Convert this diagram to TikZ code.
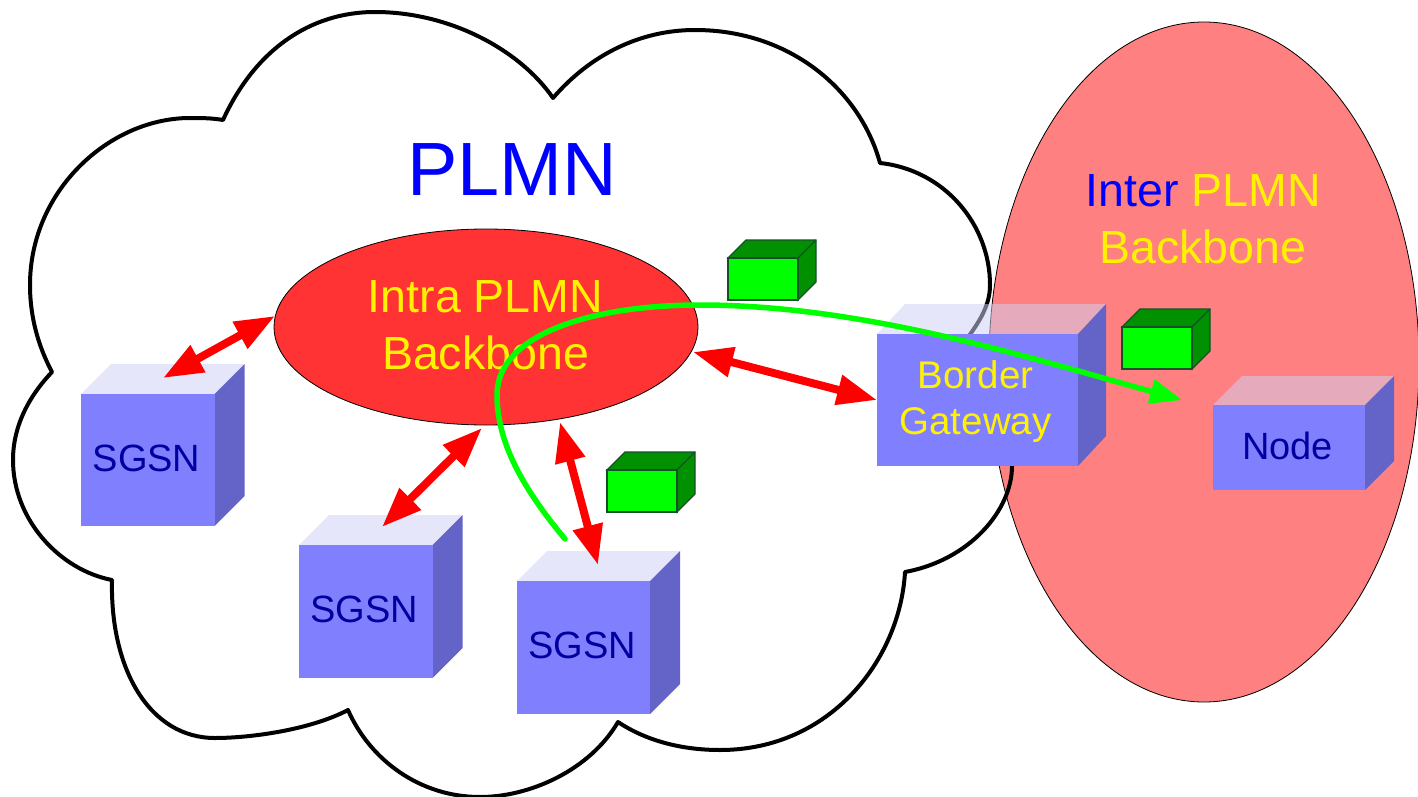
\documentclass[tikz,border=0pt]{standalone}
\usepackage{fontspec}
\setmainfont{Liberation Sans}
\usetikzlibrary{arrows.meta,shapes.geometric}
\definecolor{pinkfill}{RGB}{255,128,128}
\definecolor{redfill}{RGB}{255,51,51}
\definecolor{cubefront}{RGB}{128,128,255}
\definecolor{cubeside}{RGB}{100,100,200}
\definecolor{cubetop}{RGB}{208,208,245}
\definecolor{darktext}{RGB}{0,0,160}
\definecolor{pktdark}{RGB}{0,144,0}
\definecolor{pktline}{RGB}{20,80,40}
\definecolor{lime}{RGB}{0,255,0}
\newcommand{\fsz}[1]{\fontsize{#1}{#1}\selectfont}
\tikzset{
  x=1pt,y=-1pt,
  redarrow/.style={red,line width=8pt,{Triangle[length=40pt,width=29pt]}-{Triangle[length=40pt,width=29pt]}},
  greenarrow/.style={lime,line width=5.5pt,line cap=round,-{Triangle[length=32pt,width=24pt]}},
  cubebox/.style={fill=cubefront,inner sep=0pt,outer sep=0pt,anchor=north west},
  pktbox/.style={fill=lime,draw=pktline,line width=1.2pt,inner sep=0pt,outer sep=0pt,anchor=north west},
  lab/.style={inner sep=0pt,align=center},
  cubelab/.style={lab,text=darktext,font=\fsz{38}},
}
% #1 name, #2 x, #3 y, #4 w, #5 h, #6 dx, #7 dy
\newcommand{\cubeat}[7]{%
  \fill[cubetop,opacity=.53] (#2,#3) -- ++(#6,-#7) -- ++(#4,0) -- ++(-#6,#7) -- cycle;
  \fill[cubeside] (#2+#4,#3) -- ++(#6,-#7) -- ++(0,#5) -- ++(-#6,#7) -- cycle;
  \node[cubebox,minimum width=#4pt,minimum height=#5pt] (#1) at (#2,#3) {};
}
\newcommand{\pktat}[3]{%
  \fill[pktdark,draw=pktline,line width=1.2pt] (#2,#3) -- ++(18,-18) -- ++(70,0) -- ++(0,42) -- ++(-18,18) -- ++(0,-42) -- ++(-70,0) -- cycle;
  \node[pktbox,minimum width=70pt,minimum height=42pt] (#1) at (#2,#3) {};
  \draw[pktline,line width=1.2pt] (#1.north east) -- ++(18,-18);
}
\begin{document}
\begin{tikzpicture}
\useasboundingbox (0,0) rectangle (1418,797);
\node[draw=black,line width=.8pt,fill=pinkfill,ellipse,minimum width=430pt,minimum height=680pt,inner sep=0pt,outer sep=0pt] (inter) at (1204,362) {};
\draw[black,line width=4pt,line join=round]
 (223,120) .. controls (255,50) and (310,12) .. (375,12) .. controls (450,12) and (520,50) .. (553,98)
 .. controls (590,55) and (640,30) .. (695,30) .. controls (790,30) and (860,90) .. (880,163)
 .. controls (945,170) and (990,225) .. (990,285) .. controls (990,305) and (980,322) .. (962,345)
 .. controls (995,390) and (1012,430) .. (1012,466) .. controls (1012,510) and (970,560) .. (905,572)
 .. controls (900,660) and (830,750) .. (720,750) .. controls (680,750) and (645,740) .. (618,722)
 .. controls (590,770) and (530,797) .. (480,797) .. controls (420,797) and (370,760) .. (348,710)
 .. controls (310,730) and (250,738) .. (215,738) .. controls (150,738) and (110,670) .. (112,580)
 .. controls (60,570) and (13,520) .. (13,460) .. controls (13,425) and (30,395) .. (52,372)
 .. controls (35,340) and (30,310) .. (30,285) .. controls (30,190) and (110,118) .. (190,118) .. controls (200,118) and (212,118) .. (223,120) -- cycle;
\node[draw=black,line width=.8pt,fill=redfill,ellipse,minimum width=424pt,minimum height=196pt,inner sep=0pt,outer sep=0pt] (intra) at (486,327) {};
\node[lab,text=blue,font=\fsz{75.5}] (plmn) at (512,170) {PLMN};
\node[lab,text=yellow,font=\fsz{46.5}] (intralab) at (485.5,325) {Intra PLMN\\[11pt]Backbone};
\node[lab,text=yellow,font=\fsz{46.5}] (interlab) at (1203,219) {\textcolor{blue}{Inter} PLMN\\[11pt]Backbone};
\cubeat{sgsna}{81}{394}{133.5}{132}{30}{30}
\cubeat{sgsnb}{299}{545}{133.5}{133}{30}{30}
\cubeat{sgsnc}{517}{581}{133}{133}{30}{30}
\cubeat{border}{877}{334}{201}{132}{28}{30}
\cubeat{nodebox}{1213}{405}{152}{85}{29}{29}
\node[cubelab] (sgsnalab) at (146.5,458) {SGSN};
\node[cubelab] (sgsnblab) at (364,609) {SGSN};
\node[cubelab] (sgsnclab) at (582,645) {SGSN};
\node[cubelab,text=yellow,font=\fsz{38.5}] (borderlab) at (975.5,401.5) {Border\\[7.5pt]Gateway};
\node[cubelab] (nodelab) at (1287.5,446) {Node};
\pktat{pkta}{728}{258}
\pktat{pktb}{1122}{327}
\pktat{pktc}{607}{470}
\coordinate (a1) at (275,316); \coordinate (a2) at (163,378);
\coordinate (b1) at (482,428); \coordinate (b2) at (382,527);
\coordinate (c1) at (560,422); \coordinate (c2) at (598,565);
\coordinate (d1) at (693,352); \coordinate (d2) at (877,400);
\coordinate (gs) at (565,539); \coordinate (gm) at (700,305); \coordinate (ge) at (1182,400);
\draw[redarrow] (a1) -- (a2);
\draw[redarrow] (b1) -- (b2);
\draw[redarrow] (c1) -- (c2);
\draw[redarrow] (d1) -- (d2);
\draw[greenarrow] (gs) .. controls (520,485) and (497,440) .. (497,395) .. controls (497,335) and (590,305) .. (gm) .. controls (860,305) and (1020,355) .. (ge);
\end{tikzpicture}
\end{document}
